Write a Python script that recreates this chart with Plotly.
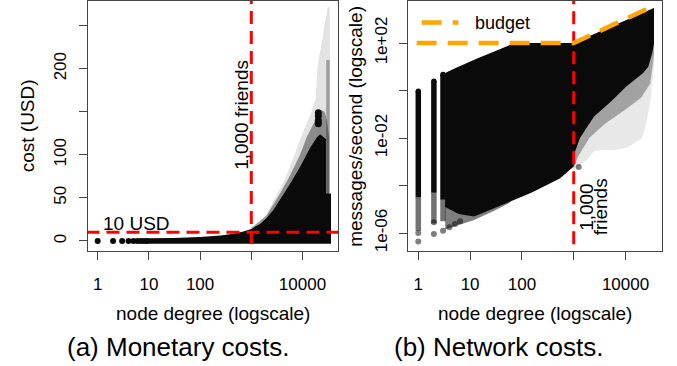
import numpy as np
import plotly.graph_objects as go

# ---------------- data ----------------
# Panel (a): monetary cost (USD) vs node degree
mon_dot_degree = [1, 2, 3, 4, 5, 6, 7, 8, 9]
mon_dot_cost = [0, 0, 0, 0, 0, 0, 0, 0, 0]

mon_solid_degree = [9, 30, 100, 250, 445, 700, 1000, 1500, 2000, 2700, 3640, 5700, 8940,
                    14000, 19000, 22000, 28770, 28770, 36050, 36050, 9]
mon_solid_cost = [3.2, 3.4, 4.6, 6.3, 8.4, 11, 14, 20, 27, 36, 48, 66, 86,
                  108, 120, 124, 118, 55, 55, -3.2, -3.2]

mon_mid_degree = [1000, 2000, 3640, 5700, 8940, 12000, 14000, 17000, 20000, 23000, 27000,
                  30000, 33000, 33000, 1000]
mon_mid_cost = [15, 30, 55, 76, 100, 120, 128, 138, 150, 152, 150, 140, 120, 0, 0]

mon_light_degree = [2000, 3000, 4200, 6600, 8940, 12000, 15000, 18000, 19500, 21000, 23000,
                    26000, 29000, 31000, 33500, 34500, 34500, 2000]
mon_light_cost = [32, 52, 68, 96, 118, 136, 150, 165, 200, 214, 225, 245, 262, 272, 272,
                  260, 50, 0]

mon_column_degree = [29000, 34000, 34000, 29000]
mon_column_cost = [55, 55, 210, 210]

mon_blob_degree = [20370, 20370, 20370, 20370]
mon_blob_cost = [136, 140, 145, 149]

# Panel (b): messages/second (log10 values) vs node degree
net_col_degree = [1, 2, 3]
net_col_top_log = [-0.03, 0.39, 0.67]
net_col_solid_bottom_log = [-4.5, -4.3, -4.6]
net_col_fade_bottom_log = [-5.9, -5.6, -5.5]

net_tail_degree = [1, 1, 2, 2, 3, 4, 5.1, 6.4, 1250]
net_tail_log = [-6.0, -6.36, -5.55, -6.04, -5.9, -5.76, -5.62, -5.5, -3.22]

net_solid_degree = [3.3, 5, 13, 30, 72, 1000, 3000, 10000, 34600, 35500, 35500, 33000,
                    27500, 21900, 10500, 5000, 2450, 1320, 1050, 1000, 540, 155, 30, 12, 6, 3.3]
net_solid_log = [0.74, 0.93, 1.33, 1.66, 2.0, 2.0, 2.45, 2.95, 3.47, 3.47, 2.0, 1.6,
                 1.0, 0.74, 0.18, -0.5, -1.1, -2.0, -2.6, -3.2, -3.7, -4.29, -4.95, -5.3, -5.2, -4.9]

net_mid_left_degree = [3.3, 60, 60, 30, 12, 6, 3.3]
net_mid_left_log = [-4.5, -4.5, -4.7, -5.05, -5.45, -5.65, -5.85]

net_mid_right_degree = [1000, 35500, 35500, 30000, 20000, 10000, 4000, 2000, 1200, 1000]
net_mid_right_log = [2.0, 3.47, 1.5, 0.3, -0.3, -0.8, -1.4, -2.0, -2.8, -3.3]

net_light_right_degree = [1000, 35500, 35500, 30000, 25000, 21000, 11000, 6000, 4000, 2500,
                          1800, 1300, 1000]
net_light_right_log = [2.0, 3.47, 1.0, -0.5, -1.4, -2.0, -2.4, -2.5, -2.5, -2.55, -2.9,
                       -3.2, -3.4]

budget_degree = [0.93, 1000, 34400]
budget_msgs = [100, 100, 3600]

friends_threshold = 1000
usd_threshold = 10

x_tickvals = [1, 10, 100, 1000, 10000]
x_ticktext = ["1", "10", "100", "", "10000"]
mon_tickvals = [0, 50, 100, 150, 200, 250]
mon_ticktext = ["0", "50", "100", "", "200", ""]
net_tickvals = [1e-6, 1e-4, 1e-2, 1, 1e2]
net_ticktext = ["1e-06", "", "1e-02", "", "1e+02"]

# ---------------- figure ----------------
W, H = 677, 366
FONT = "Liberation Sans, Arial, Helvetica, sans-serif"
BLACK = "#0a0a0a"
ORANGE = "#FFA500"
RED = "#FF0000"


def px(X):
    return X / W


def py(Y):
    return 1 - Y / H


def tolin(v):
    return list(np.power(10.0, np.array(v, dtype=float)))


fig = go.Figure()


def poly(x, y, color, xa, ya):
    fig.add_trace(go.Scatter(x=x, y=y, mode="lines", fill="toself", fillcolor=color,
                             line=dict(width=0, color=color), hoverinfo="skip",
                             showlegend=False, xaxis=xa, yaxis=ya))


# ---- panel (a)
poly(mon_light_degree, mon_light_cost, "rgba(0,0,0,0.11)", "x", "y")
poly(mon_column_degree, mon_column_cost, "rgba(0,0,0,0.3)", "x", "y")
poly(mon_mid_degree, mon_mid_cost, "rgba(0,0,0,0.38)", "x", "y")
poly(mon_solid_degree, mon_solid_cost, BLACK, "x", "y")
fig.add_trace(go.Scatter(x=mon_dot_degree, y=mon_dot_cost, mode="markers",
                         marker=dict(size=6, color=BLACK), showlegend=False,
                         xaxis="x", yaxis="y"))
fig.add_trace(go.Scatter(x=mon_blob_degree, y=mon_blob_cost, mode="markers",
                         marker=dict(size=7, color=BLACK), showlegend=False,
                         xaxis="x", yaxis="y"))
fig.add_trace(go.Scatter(x=[friends_threshold, friends_threshold], y=[-50, 400], mode="lines",
                         line=dict(color=RED, width=3, dash="13px,7px"), showlegend=False,
                         xaxis="x", yaxis="y"))
fig.add_trace(go.Scatter(x=[0.1, 1e6], y=[usd_threshold, usd_threshold], mode="lines",
                         line=dict(color=RED, width=3, dash="13px,7px"), showlegend=False,
                         xaxis="x", yaxis="y"))

# ---- panel (b)
poly(net_light_right_degree, tolin(net_light_right_log), "rgba(0,0,0,0.09)", "x2", "y2")
poly(net_mid_right_degree, tolin(net_mid_right_log), "rgba(0,0,0,0.3)", "x2", "y2")
poly(net_mid_left_degree, tolin(net_mid_left_log), "rgba(0,0,0,0.5)", "x2", "y2")
poly(net_solid_degree, tolin(net_solid_log), BLACK, "x2", "y2")

cx, cy, fx, fy = [], [], [], []
for d, t, b, f in zip(net_col_degree, net_col_top_log, net_col_solid_bottom_log,
                      net_col_fade_bottom_log):
    cx += [d, d, None]
    cy += [10 ** t, 10 ** b, None]
    fx += [d, d, None]
    fy += [10 ** b, 10 ** f, None]
fig.add_trace(go.Scatter(x=fx, y=fy, mode="lines", line=dict(color="rgba(0,0,0,0.55)", width=5.5),
                         showlegend=False, xaxis="x2", yaxis="y2"))
fig.add_trace(go.Scatter(x=cx, y=cy, mode="lines", line=dict(color=BLACK, width=5.5),
                         showlegend=False, xaxis="x2", yaxis="y2"))
fig.add_trace(go.Scatter(x=net_col_degree, y=tolin(net_col_top_log), mode="markers",
                         marker=dict(size=5.5, color=BLACK), showlegend=False,
                         xaxis="x2", yaxis="y2"))
fig.add_trace(go.Scatter(x=net_tail_degree, y=tolin(net_tail_log), mode="markers",
                         marker=dict(size=6, color="rgba(0,0,0,0.5)"), showlegend=False,
                         xaxis="x2", yaxis="y2"))
fig.add_trace(go.Scatter(x=[friends_threshold, friends_threshold], y=[1e-9, 1e6], mode="lines",
                         line=dict(color=RED, width=3, dash="13px,7px"), showlegend=False,
                         xaxis="x2", yaxis="y2"))
fig.add_trace(go.Scatter(x=budget_degree, y=budget_msgs, mode="lines",
                         line=dict(color=ORANGE, width=4.5, dash="20px,11px"), showlegend=False,
                         xaxis="x2", yaxis="y2"))

# ---- axes
ydom = [py(252), py(1)]
common = dict(showgrid=False, zeroline=False, showline=True, mirror=True, linecolor="#444",
              linewidth=1, ticks="outside", ticklen=8, tickcolor="#444",
              tickfont=dict(family=FONT, size=17, color="black"))
fig.update_layout(
    xaxis=dict(type="log", domain=[px(88), px(338)], range=[-0.189, 4.693], anchor="y",
               tickvals=x_tickvals, ticktext=x_ticktext, ticklabelstandoff=10, **common),
    yaxis=dict(domain=ydom, range=[-11.2, 278.6], anchor="x", tickangle=-90,
               tickvals=mon_tickvals, ticktext=mon_ticktext, ticklabelstandoff=6, **common),
    xaxis2=dict(type="log", domain=[px(408.3), px(662.3)], range=[-0.193, 4.71], anchor="y2",
                tickvals=x_tickvals, ticktext=x_ticktext, ticklabelstandoff=10, **common),
    yaxis2=dict(type="log", domain=ydom, range=[-6.74, 3.77], anchor="x2", tickangle=-90,
                tickvals=net_tickvals, ticktext=net_ticktext, ticklabelstandoff=6, **common),
    width=W, height=H, margin=dict(l=0, r=0, t=0, b=0),
    paper_bgcolor="white", plot_bgcolor="white", showlegend=False,
    font=dict(family=FONT, color="black"),
)


def ann(text, X, Y, size, angle=0, xanchor="center"):
    fig.add_annotation(text=text, x=px(X), y=py(Y), xref="paper", yref="paper",
                       showarrow=False, textangle=angle, xanchor=xanchor, yanchor="middle",
                       font=dict(family=FONT, size=size, color="black"))


ann("cost (USD)", 27.5, 126.5, 19, -90)
ann("messages/second (logscale)", 356, 127.5, 19, -90)
ann("node degree (logscale)", 213, 315, 19)
ann("node degree (logscale)", 535, 315, 19)
ann("(a) Monetary costs.", 178, 349, 26)
ann("(b) Network costs.", 499, 349, 26)
ann("10 USD", 101, 225, 19, 0, "left")
ann("1,000 friends", 241.5, 116, 19, -90)
ann("1,000", 587, 208, 19, -90)
ann("friends", 600.5, 208, 19, -90)
ann("budget", 473, 22.7, 18, 0, "left")

# legend sample for the budget line
fig.add_shape(type="line", xref="paper", yref="paper", x0=px(421.7), x1=px(458.3),
              y0=py(22.7), y1=py(22.7), line=dict(color=ORANGE, width=4.5, dash="20px,11px"))

fig.write_html("out.html")
